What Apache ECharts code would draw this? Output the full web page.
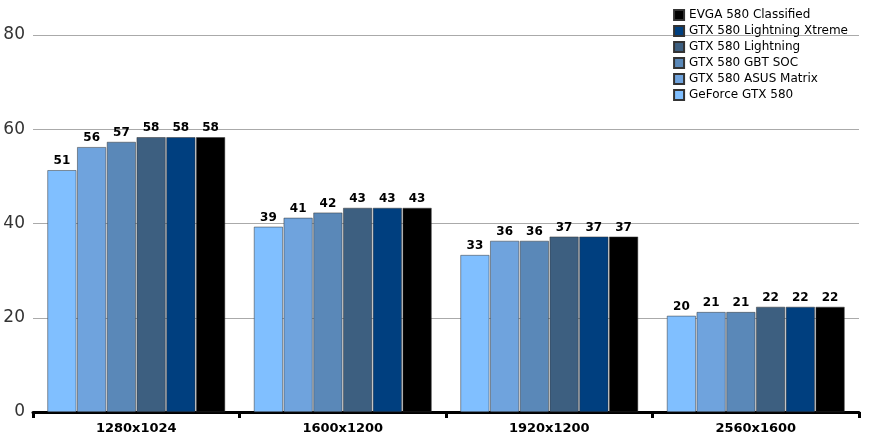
<!DOCTYPE html><html><head><meta charset="utf-8"><script src="https://cdn.jsdelivr.net/npm/echarts@6/dist/echarts.min.js"></script></head><body style="margin:0"><div id="c" style="width:871px;height:444px"></div><script>
var categories=['1280x1024','1600x1200','1920x1200','2560x1600'];
var seriesNames=['GeForce GTX 580','GTX 580 ASUS Matrix','GTX 580 GBT SOC','GTX 580 Lightning','GTX 580 Lightning Xtreme','EVGA 580 Classified'];
var colors=['#80bfff','#6fa3dd','#5a88b8','#3d5f80','#003f7f','#000000'];
var geforce=[51.3,39.3,33.3,20.4];
var asus=[56.2,41.2,36.3,21.2];
var gbt=[57.3,42.3,36.3,21.2];
var lightning=[58.3,43.3,37.2,22.3];
var xtreme=[58.3,43.3,37.2,22.3];
var evga=[58.3,43.3,37.2,22.3];
var values=[geforce,asus,gbt,lightning,xtreme,evga];
var yTicks=[0,20,40,60,80];
var series=seriesNames.map(function(n,i){return{name:n,type:'bar',data:values[i],barGap:'3%',barCategoryGap:'14%',
itemStyle:{color:colors[i],borderColor:'#333',borderWidth:0.5},
label:{show:true,position:'top',fontFamily:'Verdana, DejaVu Sans',fontWeight:'bold',fontSize:12,color:'#000',distance:3,formatter:function(p){return Math.round(p.value);}}};});
var ch=echarts.init(document.getElementById('c'));
ch.setOption({animation:false,
legend:{orient:'vertical',right:18,top:4,itemWidth:10,itemHeight:10,itemGap:4,icon:'rect',
textStyle:{fontFamily:'Verdana, DejaVu Sans',fontSize:12,color:'#000'},data:seriesNames.slice().reverse()},
grid:{left:33,right:12,top:35,bottom:32},
xAxis:{type:'category',data:categories,axisLine:{lineStyle:{color:'#000',width:3}},axisTick:{show:true,length:6,lineStyle:{color:'#000',width:3}},
axisLabel:{fontFamily:'Verdana, DejaVu Sans',fontWeight:'bold',fontSize:13,color:'#000',margin:10}},
yAxis:{type:'value',min:0,max:80,interval:20,axisLine:{show:false},axisTick:{show:false},
splitLine:{lineStyle:{color:'#aaa'}},axisLabel:{fontFamily:'Verdana, DejaVu Sans',fontSize:17,color:'#333',margin:8,
formatter:function(v){return yTicks.indexOf(v)>=0?v:'';}}},
series:series});
</script></body></html>
